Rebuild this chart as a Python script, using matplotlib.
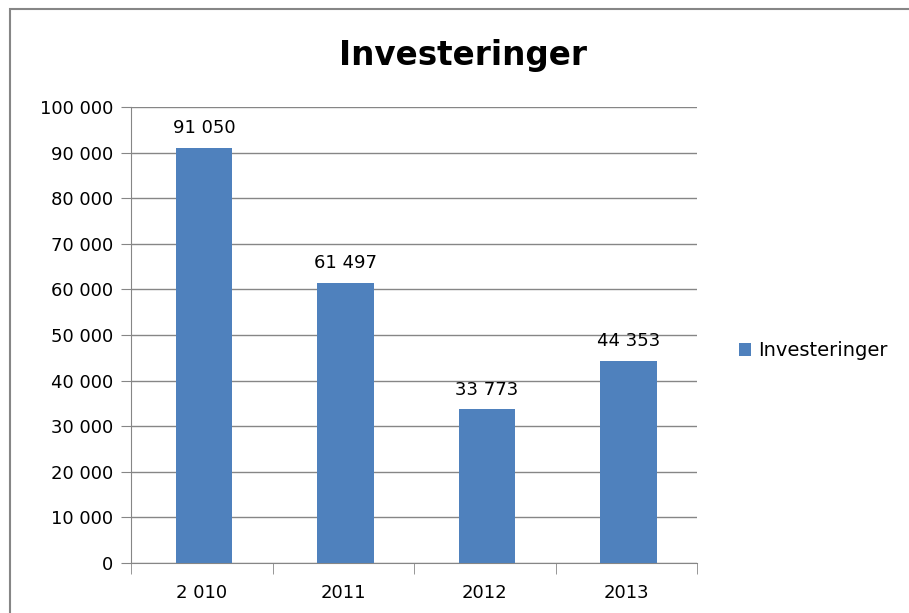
import matplotlib.pyplot as plt
import numpy as np
from matplotlib.patches import Rectangle

plt.rcParams["font.family"] = ["DejaVu Sans"]

years = ["2 010", "2011", "2012", "2013"]
values = [91050, 61497, 33773, 44353]
value_labels = ["91 050", "61 497", "33 773", "44 353"]
y_ticks = [0, 10000, 20000, 30000, 40000, 50000, 60000, 70000, 80000, 90000, 100000]
y_tick_labels = ["0", "10 000", "20 000", "30 000", "40 000", "50 000",
                 "60 000", "70 000", "80 000", "90 000", "100 000"]

W, H = 909, 613
fig = plt.figure(figsize=(W / 100, H / 100), dpi=100)
ax = fig.add_axes([131 / W, 1 - 563 / H, (697 - 131) / W, (563 - 107) / H])

# outer chart border (only left/top visible in the crop)
fig.patches.append(Rectangle((10 / W, -0.1), 1.2, 1 - 9 / H + 0.1,
                             transform=fig.transFigure, fill=False,
                             edgecolor="#868686", linewidth=1.5))

x = np.arange(len(years))
bars = ax.bar(x + 0.015, values, width=0.4, color="#4F81BD", zorder=3,
              label="Investeringer")
for xi, v, lab in zip(x, values, value_labels):
    ax.text(xi + 0.015, v + 2300, lab, ha="center", va="bottom", fontsize=13)

ax.set_xlim(-0.5, len(years) - 0.5)
ax.set_ylim(0, 100000)
ax.set_yticks(y_ticks, y_tick_labels, fontsize=13)
ax.set_xticks(x, years, fontsize=13)
ax.tick_params(axis="x", length=0, pad=15)
ax.tick_params(axis="y", length=7, color="#868686", pad=6)
ax.set_xticks(np.arange(len(years) + 1) - 0.5, minor=True)
ax.tick_params(axis="x", which="minor", length=8, color="#868686")
ax.grid(axis="y", color="#868686", linewidth=1, zorder=0)
for side in ["top", "right"]:
    ax.spines[side].set_visible(False)
for side in ["left", "bottom"]:
    ax.spines[side].set_color("#868686")

fig.text(463 / W, 1 - 55 / H, "Investeringer", ha="center", va="center",
         fontsize=23.5, fontweight="bold")

fig.legend(handles=[bars], labels=["Investeringer"], loc="center left",
           bbox_to_anchor=(721 / W, 1 - 351 / H), frameon=False,
           fontsize=14, handlelength=0.65, handleheight=0.65, handletextpad=0.35)

fig.savefig("out.png", dpi=100)
